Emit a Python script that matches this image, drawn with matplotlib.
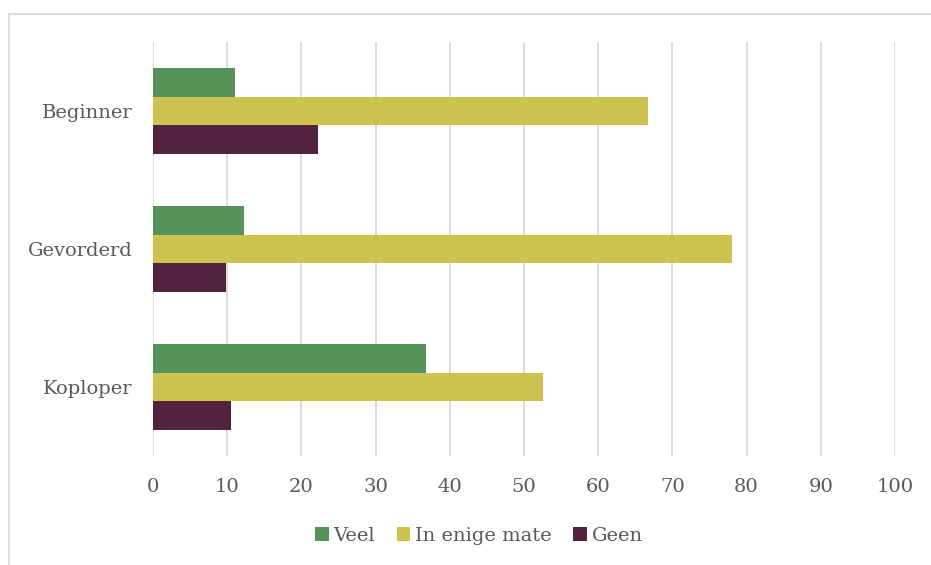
import matplotlib.pyplot as plt
import numpy as np
from matplotlib.patches import Rectangle

categories = ['Beginner', 'Gevorderd', 'Koploper']
series = ['Veel', 'In enige mate', 'Geen']
veel = [11.1, 12.2, 36.8]
enige = [66.7, 78.0, 52.6]
geen = [22.2, 9.8, 10.5]
colors = ['#56915A', '#CCC350', '#532241']
ticks = list(range(0, 101, 10))

plt.rcParams['font.family'] = ['DejaVu Serif']
text_color = '#595959'

fig = plt.figure(figsize=(9.31, 5.65), dpi=100)
ax = fig.add_axes([153 / 931, 1 - 456 / 565, (895 - 153) / 931, (456 - 42) / 565])

y = np.arange(len(categories))
h = 0.207
for i, (vals, name) in enumerate(zip([veel, enige, geen], series)):
    ax.barh(y + (i - 1) * h, vals, height=h, color=colors[i], label=name, zorder=2)

ax.set_xlim(0, 100)
ax.set_ylim(len(categories) - 0.5, -0.5)
ax.set_xticks(ticks)
ax.set_yticks(y)
ax.set_yticklabels(categories)
ax.tick_params(length=0, labelsize=14, labelcolor=text_color)
ax.tick_params(axis='x', pad=16)
ax.tick_params(axis='y', pad=15)
ax.grid(axis='x', color='#D9D9D9', linewidth=1.3, zorder=0)
for s in ax.spines.values():
    s.set_visible(False)

leg = ax.legend(loc='center', bbox_to_anchor=(479 / 931, 1 - 536 / 565),
                bbox_transform=fig.transFigure, ncol=3, frameon=False,
                fontsize=14, handlelength=0.7, handleheight=0.7,
                columnspacing=1.1, handletextpad=0.25)
for t in leg.get_texts():
    t.set_color(text_color)

fig.patches.append(Rectangle((9 / 931, -0.1), 1.2, 1 - 14 / 565 + 0.1,
                             transform=fig.transFigure, fill=False,
                             edgecolor='#D9D9D9', linewidth=1.3))

fig.savefig('out.png', dpi=100)
